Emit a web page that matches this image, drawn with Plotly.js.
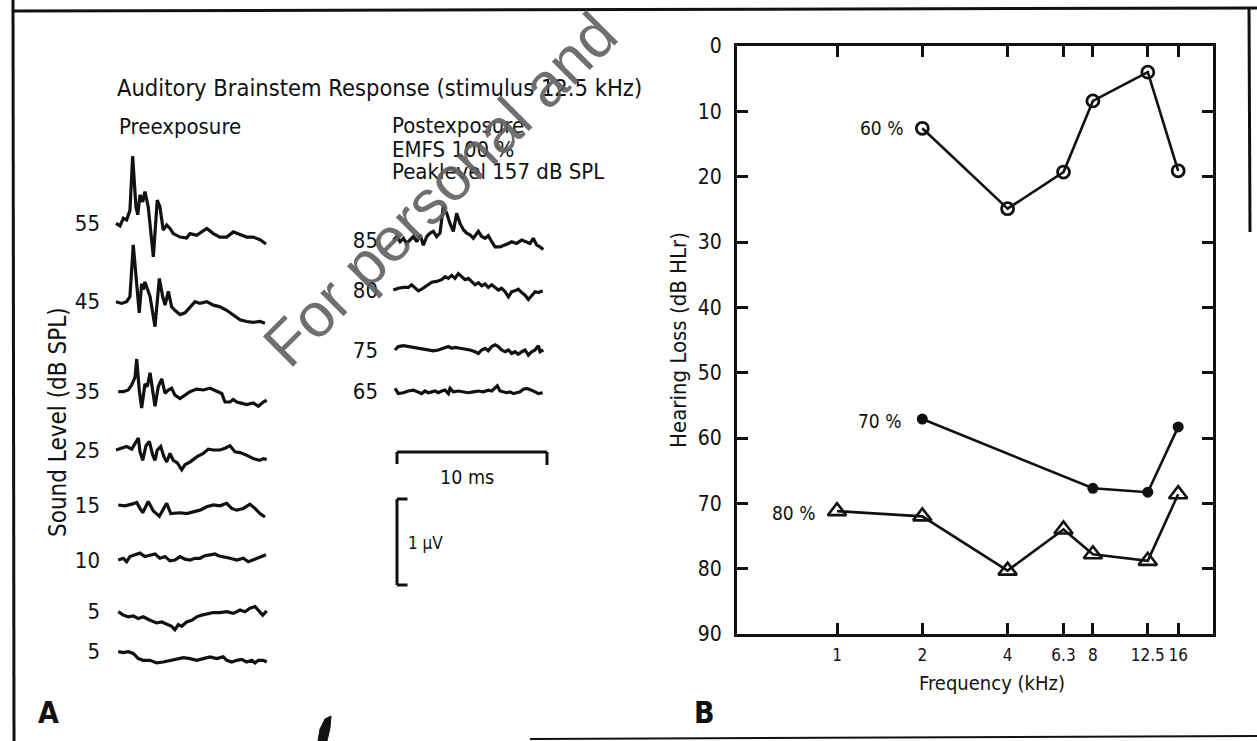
<!DOCTYPE html>
<html>
<head>
<meta charset="utf-8">
<script src="https://cdn.plot.ly/plotly-3.0.1.min.js"></script>
<style>html,body{margin:0;padding:0;background:#fff;}#chart{width:1257px;height:741px;}</style>
</head>
<body>
<div id="chart"></div>
<script>
// ---------------- Panel A data: ABR waveforms (time in ms, amplitude in µV) ----------------
const preLevels = ['55', '45', '35', '25', '15', '10', '5', '5'];
const postLevels = ['85', '80', '75', '65'];

const t55 = [0,0.27,0.49,0.71,0.93,1.11,1.33,1.45,1.6,1.78,1.93,2.15,2.49,2.75,2.93,3.15,3.38,3.6,3.82,4.27,4.71,4.93,5.38,6.05,6.49,6.93,7.38,7.82,8.27,8.71,9.15,9.6,10.0];
const v55 = [0,-0.03,0.06,0.04,0.15,0.78,0.19,0.1,0.33,0.25,0.37,0.19,-0.39,0.27,0.19,-0.08,-0.02,-0.06,-0.12,-0.16,-0.17,-0.12,-0.14,-0.06,-0.12,-0.16,-0.16,-0.1,-0.13,-0.16,-0.16,-0.19,-0.24];

const t45 = [0,0.38,0.71,0.93,1.15,1.38,1.55,1.71,1.82,1.93,2.09,2.27,2.6,2.89,3.11,3.27,3.49,3.71,3.93,4.27,4.6,4.93,5.27,5.6,6.05,6.49,6.93,7.38,7.82,8.27,8.71,9.15,9.6,9.93];
const v45 = [0,-0.02,0,0.06,0.66,0.25,-0.13,0.21,0.14,0.23,0.16,0.06,-0.29,0.27,0.06,-0.04,0.12,-0.06,-0.1,-0.15,-0.13,-0.06,0,-0.02,0,-0.04,-0.06,-0.1,-0.15,-0.21,-0.23,-0.24,-0.23,-0.25];

const t35 = [0.15,0.49,0.82,1.05,1.27,1.38,1.55,1.71,1.93,2.09,2.27,2.45,2.6,2.82,3.05,3.27,3.49,3.71,3.93,4.27,4.6,4.93,5.38,5.82,6.27,6.71,7.05,7.27,7.6,7.82,8.05,8.27,8.71,9.15,9.49,9.82,10.05];
const v35 = [0,0,0.02,0.08,0.17,0.38,0.02,-0.19,0.09,0.06,0.22,0.02,-0.17,0.06,0.15,-0.02,0.02,0.04,-0.04,-0.08,-0.04,0,0.03,0.02,0.04,0.01,-0.02,-0.12,-0.12,-0.09,-0.12,-0.13,-0.15,-0.13,-0.17,-0.12,-0.1];

const t25 = [0,0.38,0.71,1.05,1.27,1.49,1.6,1.78,2.0,2.22,2.45,2.6,2.75,2.98,3.2,3.38,3.6,3.82,4.09,4.38,4.6,4.93,5.38,5.82,6.15,6.49,6.93,7.27,7.6,7.93,8.27,8.71,9.15,9.6,9.82,10.05];
const v25 = [0,0.02,0.04,0.01,0.08,0.14,-0.02,-0.12,0.05,0.1,-0.06,-0.12,0,0.04,-0.08,-0.14,-0.04,-0.12,-0.15,-0.23,-0.17,-0.14,-0.08,-0.04,0.01,0,0,0.02,0.05,-0.02,-0.03,-0.06,-0.1,-0.12,-0.1,-0.11];

const t15 = [0.15,0.6,1.05,1.38,1.6,1.78,2.15,2.49,2.89,3.38,3.65,4.27,4.71,5.15,5.6,6.05,6.49,6.93,7.38,7.71,8.05,8.49,8.93,9.27,9.6,9.93];
const v15 = [0,-0.01,0.01,0.03,-0.04,-0.09,0.04,-0.07,-0.13,0.02,-0.1,-0.09,-0.1,-0.08,-0.06,-0.02,0,-0.01,0.02,-0.04,-0.06,-0.04,0.01,-0.04,-0.1,-0.14];

const t10 = [0.15,0.49,0.71,0.93,1.27,1.6,1.93,2.27,2.6,2.93,3.27,3.6,3.93,4.27,4.6,4.93,5.27,5.6,5.93,6.27,6.6,6.82,7.15,7.6,8.05,8.49,8.82,9.15,9.49,9.82,10.0];
const v10 = [0,0.02,-0.02,0.04,0.06,0.08,0.04,0.06,0.07,0.02,0.04,-0.01,0,0.04,0.01,0,0.02,0.02,0.05,0.06,0.07,0.05,0.04,0.02,0,0.02,-0.02,0,0.02,0.04,0.06];

const t5a = [0.15,0.49,0.82,1.15,1.49,1.82,2.27,2.71,3.05,3.38,3.71,3.93,4.15,4.38,4.71,5.05,5.38,5.71,6.05,6.49,6.93,7.38,7.82,8.27,8.6,8.93,9.27,9.6,9.78,10.05];
const v5a = [0,-0.04,-0.06,-0.05,-0.08,-0.06,-0.1,-0.13,-0.12,-0.15,-0.17,-0.21,-0.15,-0.17,-0.12,-0.1,-0.06,-0.04,-0.03,-0.01,-0.01,0,-0.02,0.02,0,0.04,0.06,0,-0.04,0.01];

const t5b = [0.15,0.49,0.82,1.15,1.49,1.82,2.27,2.71,3.15,3.6,4.05,4.49,4.93,5.38,5.82,6.27,6.71,7.15,7.38,7.71,8.05,8.38,8.71,9.05,9.27,9.49,9.82,10.05];
const v5b = [0,-0.01,0,-0.02,-0.08,-0.1,-0.1,-0.13,-0.12,-0.1,-0.08,-0.07,-0.08,-0.1,-0.08,-0.06,-0.08,-0.06,-0.1,-0.12,-0.1,-0.09,-0.12,-0.1,-0.13,-0.1,-0.1,-0.12];

const t85 = [0,0.22,0.45,0.67,0.89,1.11,1.33,1.56,1.78,2.0,2.22,2.45,2.67,2.89,3.11,3.33,3.56,3.78,4.0,4.22,4.45,4.67,4.89,5.11,5.33,5.67,5.89,6.11,6.33,6.56,6.78,7.11,7.45,7.67,7.89,8.22,8.56,8.89,9.11,9.33,9.56,9.78,10.0];
const v85 = [0,0.04,-0.02,0.02,-0.04,0,0.04,-0.02,0.06,-0.06,0.04,0.08,0.1,0.04,0.08,0.39,0.31,0.19,0.1,0.31,0.19,0.12,0.08,0.06,0.02,0.1,0.04,0.02,0.05,-0.02,-0.08,-0.08,-0.06,-0.04,-0.02,-0.04,0,-0.02,-0.04,0.02,-0.06,-0.08,-0.11];

const t80 = [0,0.33,0.67,1.0,1.22,1.45,1.67,1.89,2.22,2.56,2.89,3.22,3.45,3.67,3.89,4.11,4.33,4.56,4.78,5.0,5.22,5.45,5.67,5.89,6.11,6.33,6.56,6.78,7.0,7.22,7.45,7.67,7.89,8.11,8.33,8.56,8.78,9.0,9.22,9.45,9.67,9.96];
const v80 = [0,0.02,0.03,0.03,0.06,0.02,-0.01,0.01,0.05,0.09,0.1,0.12,0.155,0.135,0.17,0.135,0.19,0.16,0.12,0.135,0.095,0.06,0.085,0.05,0.07,0.03,0.06,0.03,0,0.02,-0.02,-0.08,-0.02,-0.01,0.01,-0.03,-0.06,-0.11,-0.06,-0.02,-0.03,-0.01];

const t75 = [0.11,0.33,0.67,1.0,1.33,1.67,2.0,2.33,2.67,3.0,3.33,3.67,3.89,4.11,4.45,4.78,5.11,5.45,5.67,5.89,6.11,6.33,6.56,6.78,7.0,7.22,7.45,7.67,7.89,8.11,8.33,8.56,8.78,9.0,9.22,9.45,9.67,9.78,10.0];
const v75 = [0,0.04,0.05,0.04,0.03,0.02,0.01,0,-0.01,0,0.02,0.04,0.02,0.03,0.02,0.01,0,-0.02,-0.04,0,0.02,-0.01,0.04,0.06,0.04,0,-0.02,0,-0.04,-0.02,-0.05,-0.02,0,-0.06,-0.02,0,0.05,-0.02,0];

const t65 = [0.11,0.33,0.67,1.0,1.33,1.67,1.89,2.11,2.33,2.56,2.78,3.0,3.22,3.45,3.67,3.78,4.0,4.33,4.67,5.0,5.33,5.67,6.0,6.33,6.56,6.78,6.93,7.11,7.33,7.56,7.78,8.0,8.22,8.45,8.67,8.89,9.22,9.45,9.67,9.96];
const v65 = [0.03,-0.03,-0.02,0,0.01,-0.01,-0.03,0,-0.02,-0.01,0,-0.02,0,0.01,-0.03,0.03,-0.01,0,-0.01,-0.02,-0.01,0,-0.01,0.01,0,0.03,0.06,0,-0.01,-0.02,-0.01,-0.03,-0.02,-0.01,0.02,0.03,0.01,-0.01,-0.03,-0.02];

// ---------------- Panel B data: hearing loss vs frequency ----------------
const freqTicks = [1, 2, 4, 6.3, 8, 12.5, 16];
const freqTickText = ['1', '2', '4', '6.3', '8', '12.5', '16'];
const hlTicks = [0, 10, 20, 30, 40, 50, 60, 70, 80, 90];

const f60 = [2, 4, 6.3, 8, 12.5, 16];
const hl60 = [12.6, 24.9, 19.3, 8.4, 4.0, 19.1];
const f70 = [2, 8, 12.5, 16];
const hl70 = [57.1, 67.7, 68.3, 58.3];
const f80 = [1, 2, 4, 6.3, 8, 12.5, 16];
const hl80 = [71.2, 72.0, 80.3, 74.0, 77.8, 78.8, 68.6];
const seriesNames = ['60 %', '70 %', '80 %'];

// ---------------- Layout helpers ----------------
const W = 1257, H = 741;
const PX = x => x / W;
const PY = y => 1 - y / H;
const FONT = 'DejaVu Sans Condensed, DejaVu Sans, sans-serif';
const INK = '#111';

// panel A vertical scale: 1 µV = 86 px; y2 value = (H - px)/86
const UV = 86;
const yv = py => (H - py) / UV;
const preBase = [223.3, 301.7, 391.7, 450, 505, 560, 611.7, 651.7].map(yv);
const postBase = [240, 290, 350, 391].map(yv);
const POST_SHIFT = 18.49; // ms offset of the postexposure column

const preT = [t55, t45, t35, t25, t15, t10, t5a, t5b];
const preV = [v55, v45, v35, v25, v15, v10, v5a, v5b];
const postT = [t85, t80, t75, t65];
const postV = [v85, v80, v75, v65];

const traces = [];
preT.forEach((t, i) => {
  traces.push({
    x: t, y: preV[i].map(a => a + preBase[i]),
    xaxis: 'x2', yaxis: 'y2', mode: 'lines', type: 'scatter',
    line: {color: INK, width: 3.2}, hoverinfo: 'skip', showlegend: false,
    name: 'pre ' + preLevels[i]
  });
});
postT.forEach((t, i) => {
  traces.push({
    x: t.map(v => v + POST_SHIFT), y: postV[i].map(a => a + postBase[i]),
    xaxis: 'x2', yaxis: 'y3', mode: 'lines', type: 'scatter',
    line: {color: INK, width: 3.2}, hoverinfo: 'skip', showlegend: false,
    name: 'post ' + postLevels[i]
  });
});

traces.push({
  x: f60, y: hl60, name: seriesNames[0], type: 'scatter', mode: 'lines+markers',
  line: {color: INK, width: 2.6},
  marker: {symbol: 'circle-open', size: 12, color: INK, line: {width: 2.8, color: INK}},
  showlegend: false, xaxis: 'x', yaxis: 'y'
});
traces.push({
  x: f70, y: hl70, name: seriesNames[1], type: 'scatter', mode: 'lines+markers',
  line: {color: INK, width: 2.6},
  marker: {symbol: 'circle', size: 11, color: INK},
  showlegend: false, xaxis: 'x', yaxis: 'y'
});
traces.push({
  x: f80, y: hl80, name: seriesNames[2], type: 'scatter', mode: 'lines+markers',
  line: {color: INK, width: 2.6},
  marker: {symbol: 'triangle-up-open', size: 16, color: INK, line: {width: 2.6, color: INK}},
  showlegend: false, xaxis: 'x', yaxis: 'y'
});

// x2 axis maps time: 15 px per ms, t=0 at px 116
const X2L = 104, X2R = 690;
const x2range = [(X2L - 116) / 15, (X2R - 116) / 15];
const y2range = [0, H / UV];

const textFont = (size) => ({family: FONT, size: size, color: INK});
const ann = (text, x, y, size, xanchor, extra) => Object.assign({
  text: text, xref: 'paper', yref: 'paper', x: PX(x), y: PY(y),
  xanchor: xanchor || 'left', yanchor: 'middle', showarrow: false, font: textFont(size)
}, extra || {});

const SB_T0 = (397 - 116) / 15;
const shapes = [
  // scale bar 10 ms
  {type: 'line', xref: 'x2', yref: 'y2', x0: SB_T0, x1: SB_T0 + 10, y0: yv(452), y1: yv(452), line: {color: INK, width: 3}},
  {type: 'line', xref: 'x2', yref: 'y2', x0: SB_T0, x1: SB_T0, y0: yv(452), y1: yv(464), line: {color: INK, width: 3}},
  {type: 'line', xref: 'x2', yref: 'y2', x0: SB_T0 + 10, x1: SB_T0 + 10, y0: yv(452), y1: yv(465), line: {color: INK, width: 3}},
  // bracket 1 µV
  {type: 'line', xref: 'x2', yref: 'y2', x0: SB_T0, x1: SB_T0, y0: yv(585), y1: yv(585) + 1, line: {color: INK, width: 3}},
  {type: 'line', xref: 'x2', yref: 'y2', x0: SB_T0, x1: SB_T0 + 0.7, y0: yv(585) + 1, y1: yv(585) + 1, line: {color: INK, width: 3}},
  {type: 'line', xref: 'x2', yref: 'y2', x0: SB_T0, x1: SB_T0 + 0.7, y0: yv(585), y1: yv(585), line: {color: INK, width: 3}},
  // scan borders
  {type: 'line', xref: 'paper', yref: 'paper', x0: PX(13), x1: PX(14), y0: PY(0), y1: PY(741), line: {color: INK, width: 3}},
  {type: 'line', xref: 'paper', yref: 'paper', x0: PX(13), x1: PX(1257), y0: PY(11), y1: PY(8), line: {color: INK, width: 3}},
  {type: 'line', xref: 'paper', yref: 'paper', x0: PX(1249), x1: PX(1250), y0: PY(8), y1: PY(232), line: {color: INK, width: 3}},
  {type: 'line', xref: 'paper', yref: 'paper', x0: PX(530), x1: PX(1257), y0: PY(739), y1: PY(736), line: {color: INK, width: 2}},
  {type: 'path', xref: 'paper', yref: 'paper', fillcolor: INK, line: {color: INK, width: 1},
   path: 'M ' + PX(318) + ',' + PY(741) + ' L ' + PX(320) + ',' + PY(729) + ' L ' + PX(325) + ',' + PY(719) + ' L ' + PX(331) + ',' + PY(716) + ' L ' + PX(330) + ',' + PY(728) + ' L ' + PX(327) + ',' + PY(741) + ' Z'}
];

const annotations = [
  ann('Preexposure', 117, 127, 22),
  ann('Postexposure', 390, 125, 22),
  ann('EMFS 100 %', 390, 149, 22),
  ann('Peaklevel 157 dB SPL', 390, 172, 22),
  ann('10 ms', 467, 477, 19.5, 'center'),
  ann('1 µV', 406, 543, 17),
  ann('Sound Level (dB SPL)', 58, 422, 24, 'center', {textangle: -90}),
  ann('Frequency (kHz)', 992, 683, 20, 'center'),
  ann('A', 48, 712, 30, 'center', {font: {family: FONT, size: 30, color: INK, weight: 'bold'}}),
  ann('B', 704, 712, 30, 'center', {font: {family: FONT, size: 30, color: INK, weight: 'bold'}}),
  // series labels in panel B
  {text: seriesNames[0], xref: 'x', yref: 'y', x: Math.log10(f60[0]), y: hl60[0], xanchor: 'right', yanchor: 'middle', xshift: -17, showarrow: false, font: textFont(19)},
  {text: seriesNames[1], xref: 'x', yref: 'y', x: Math.log10(f70[0]), y: hl70[0], xanchor: 'right', yanchor: 'middle', xshift: -19, yshift: -2, showarrow: false, font: textFont(19)},
  {text: seriesNames[2], xref: 'x', yref: 'y', x: Math.log10(f80[0]), y: hl80[0], xanchor: 'right', yanchor: 'middle', xshift: -20, yshift: -2, showarrow: false, font: textFont(19)},
  // scan watermark
  {text: 'For personal and', xref: 'paper', yref: 'paper', x: PX(440), y: PY(190), xanchor: 'center', yanchor: 'middle',
   textangle: -45, showarrow: false, font: {family: 'Liberation Sans, Arial, sans-serif', size: 62, color: 'rgba(95,95,95,0.9)'}}
];

const layout = {
  width: W, height: H,
  margin: {l: 0, r: 0, t: 0, b: 0},
  paper_bgcolor: '#fff', plot_bgcolor: 'rgba(0,0,0,0)',
  showlegend: false,
  font: textFont(20),
  title: {text: 'Auditory Brainstem Response (stimulus 12.5 kHz)', x: PX(117), xanchor: 'left', y: PY(88), yanchor: 'middle', xref: 'paper', yref: 'paper', font: textFont(23.5)},
  // Panel B axes
  xaxis: {
    type: 'log', domain: [PX(737), PX(1213)], range: [-0.353, 1.327],
    tickvals: freqTicks, ticktext: freqTickText, tickangle: 0, ticks: 'inside', ticklen: 11, tickwidth: 3, tickcolor: INK,
    showline: true, linewidth: 3, linecolor: INK, mirror: 'ticks', showgrid: false, zeroline: false,
    tickfont: textFont(17), ticklabelstandoff: 4,
    anchor: 'y'
  },
  yaxis: {
    domain: [PY(634), PY(46)], range: [90, 0], tickvals: hlTicks,
    ticks: 'inside', ticklen: 11, tickwidth: 3, tickcolor: INK,
    showline: true, linewidth: 3, linecolor: INK, mirror: 'ticks', showgrid: false, zeroline: false,
    tickfont: textFont(21), ticklabelstandoff: 8,
    title: {text: 'Hearing Loss (dB HLr)', font: textFont(22), standoff: 6},
    anchor: 'x'
  },
  // Panel A axes (invisible frame, level labels as tick labels)
  xaxis2: {domain: [PX(X2L), PX(X2R)], range: x2range, visible: false, anchor: 'y2', fixedrange: true},
  yaxis2: {
    domain: [0, 1], range: y2range, anchor: 'x2',
    showline: false, showgrid: false, zeroline: false, ticks: '',
    tickvals: preBase, ticktext: preLevels, tickfont: textFont(22), ticklabelstandoff: 3
  },
  yaxis3: {
    overlaying: 'y2', anchor: 'free', position: PX(380), range: y2range, side: 'left',
    showline: false, showgrid: false, zeroline: false, ticks: '',
    tickvals: postBase, ticktext: postLevels, tickfont: textFont(22), ticklabelstandoff: 2
  },
  shapes: shapes,
  annotations: annotations
};

Plotly.newPlot('chart', traces, layout, {displayModeBar: false, staticPlot: true});
</script>
</body>
</html>
